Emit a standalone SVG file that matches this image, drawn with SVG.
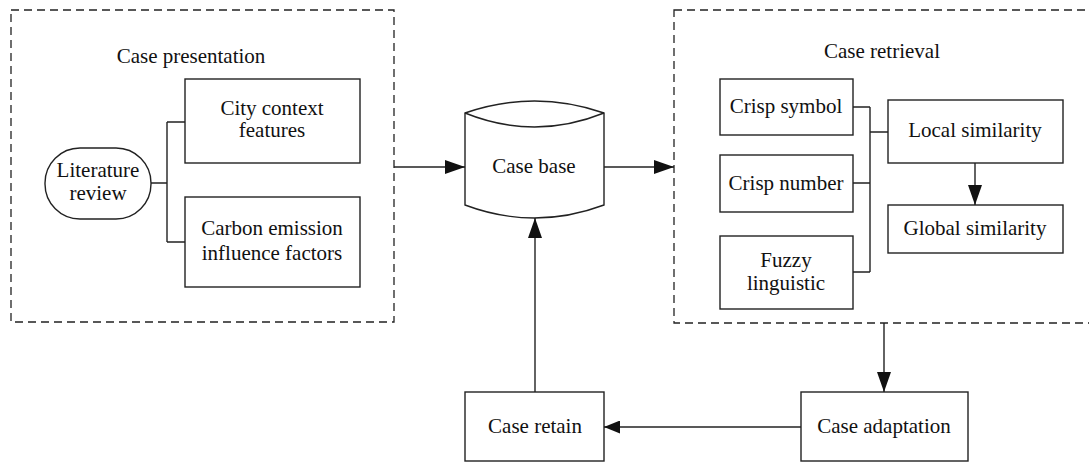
<svg xmlns="http://www.w3.org/2000/svg" width="1089" height="462" viewBox="0 0 1089 462">
<defs>
<marker id="ah" markerUnits="userSpaceOnUse" markerWidth="20" markerHeight="14" refX="20" refY="7" orient="auto">
<path d="M0,0 L20,7 L0,14 Z" fill="#111"/>
</marker>
<marker id="ahs" markerUnits="userSpaceOnUse" markerWidth="16" markerHeight="13" refX="16" refY="6.5" orient="auto">
<path d="M0,0 L16,6.5 L0,13 Z" fill="#111"/>
</marker>
<style>
.box{fill:#fff;stroke:#222;stroke-width:1.4}
.dash{fill:none;stroke:#222;stroke-width:1.3;stroke-dasharray:8,5}
.ln{fill:none;stroke:#222;stroke-width:1.4}
text{font-family:"Liberation Serif","Times New Roman",serif;font-size:21px;fill:#111;text-anchor:middle}
</style>
</defs>
<rect width="1089" height="462" fill="#fff"/>

<g id="case-presentation">
<rect class="dash" x="11" y="10" width="383" height="312"/>
<text x="191" y="63">Case presentation</text>
</g>
<g id="case-retrieval">
<rect class="dash" x="674" y="10" width="425" height="313"/>
<text x="882" y="58">Case retrieval</text>
</g>

<g id="literature-review">
<rect class="box" x="45" y="148" width="106" height="71" rx="35" ry="35"/>
<text x="98" y="177">Literature</text>
<text x="98" y="200">review</text>
</g>
<g id="city-context">
<rect class="box" x="185" y="79" width="175" height="84"/>
<text x="272" y="115">City context</text>
<text x="272" y="137">features</text>
</g>
<g id="carbon-emission">
<rect class="box" x="185" y="197" width="175" height="90"/>
<text x="272" y="235">Carbon emission</text>
<text x="272" y="260">influence factors</text>
</g>

<g id="case-base">
<path class="box" d="M465,113 Q534.5,89 604,113 L604,205 Q534.5,231 465,205 Z"/>
<path class="ln" d="M465,113 Q534.5,141 604,113"/>
<text x="534" y="173">Case base</text>
</g>

<g id="crisp-symbol">
<rect class="box" x="720" y="79" width="133" height="56"/>
<text x="786" y="113">Crisp symbol</text>
</g>
<g id="crisp-number">
<rect class="box" x="720" y="155" width="133" height="57"/>
<text x="786" y="190">Crisp number</text>
</g>
<g id="fuzzy-linguistic">
<rect class="box" x="720" y="236" width="133" height="73"/>
<text x="786" y="267">Fuzzy</text>
<text x="786" y="290">linguistic</text>
</g>
<g id="local-similarity">
<rect class="box" x="888" y="100" width="175" height="63"/>
<text x="975" y="137">Local similarity</text>
</g>
<g id="global-similarity">
<rect class="box" x="888" y="205" width="175" height="48"/>
<text x="975" y="235">Global similarity</text>
</g>

<g id="case-retain">
<rect class="box" x="465" y="392" width="139" height="69"/>
<text x="535" y="433">Case retain</text>
</g>
<g id="case-adaptation">
<rect class="box" x="801" y="392" width="167" height="69"/>
<text x="884" y="433">Case adaptation</text>
</g>

<g id="connectors">
<path class="ln" d="M151,183 H167 M167,122 V242 M167,122 H185 M167,242 H185"/>
<path class="ln" d="M853,107 H870 M853,183 H870 M853,272 H870 M870,107 V272 M870,132 H888"/>
<path class="ln" d="M394,167 H465" marker-end="url(#ah)"/>
<path class="ln" d="M604,167 H674" marker-end="url(#ah)"/>
<path class="ln" d="M975,163 V205" marker-end="url(#ah)"/>
<path class="ln" d="M884,323 V392" marker-end="url(#ah)"/>
<path class="ln" d="M801,427 H604" marker-end="url(#ahs)"/>
<path class="ln" d="M535,392 V218" marker-end="url(#ah)"/>
</g>
</svg>
